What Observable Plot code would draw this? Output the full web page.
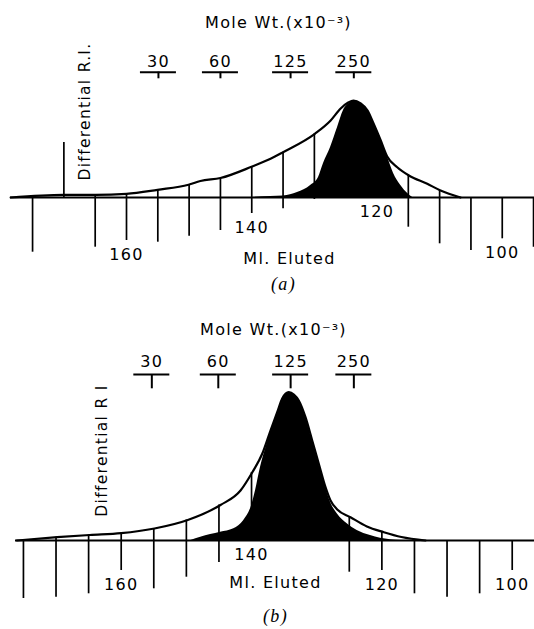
<!DOCTYPE html>
<html><head><meta charset="utf-8">
<script src="https://cdn.jsdelivr.net/npm/d3@7"></script>
<script src="https://cdn.jsdelivr.net/npm/@observablehq/plot@0.6"></script>
<style>
body{margin:0;background:#fff}
#chart svg{display:block}
</style>
</head><body><div id="chart"></div>
<script>
// ---------- DATA ----------
// Elution volume axis (Ml. Eluted), tick every 5 ml
const elutionLabels = [160, 140, 120, 100];

// Panel (a)
const ticksA      = [175, 165, 160, 155, 150, 145, 140, 135, 130, 115, 110, 105, 100, 95];
const tickDepthA  = [54.7, 49.7, 43, 44.7, 38.7, 33, 16, 11.3, 2, 29.7, 46.3, 53, 41.3, 49.7];
const hatchTopA   = [0, 2.7, 3.7, 7.7, 12.7, 18.7, 31, 45.3, 63.7, 22, 7, 0, 0, 0];
const injectionA  = [{ml: 170, h: 55}];
const outerA = [[178.5,0],[170.06,2.7],[164.95,2.7],[160,3.7],[155.05,7.7],[150.1,12.7],[148.2,16.5],
  [145,19.5],[139.93,31],[137,38.7],[135,45.3],[129.93,63.7],[127.4,77],[125.8,89],[124.6,95],
  [123.75,97],[122.6,94],[121.5,87],[120.55,74],[119.4,57],[118.37,41],[116.77,30.3],
  [114.9,22],[111.98,13.7],[109.85,7],[106.66,0]];
const peakA = [[140.5,0],[137,1],[134.93,1.5],[132.7,5],[130.6,12],[129.34,20],[128.54,34],[127.42,50],
  [126.3,70],[125.35,87],[124.23,95],[123.75,97],[122.6,94],[121.5,87],[120.55,74],[119.4,57],
  [118.3,40],[117.35,24],[116.2,12],[115.1,4],[114.3,0]];
const mwLabels = ["30", "60", "125", "250"];
const mwMlA    = [154.9, 145.0, 133.8, 123.7];

// Panel (b)
const ticksB      = [175, 170, 165, 160, 155, 150, 145, 140, 125, 120, 115, 110, 105, 100];
const tickDepthB  = [58, 56.7, 53.3, 30, 48.3, 36.7, 22, 0, 31.7, 30, 53.3, 56.7, 53.3, 30];
const hatchTopB   = [0, 3.3, 5.5, 7.3, 12, 20.5, 35.5, 68, 23.3, 8.3, 0, 0, 0, 0];
const outerB = [[176,0],[169.82,3.3],[164.82,5.5],[160,7.3],[154.89,12],[149.78,20.5],[144.76,35.5],
  [141.69,50],[139.9,68],[138.36,86.7],[137.09,110],[136.06,128.3],[135.29,142],[134.28,148.3],
  [133.5,146],[132.75,140],[131.72,123.3],[130.69,100],[129.68,76.7],[128.65,53.3],[127.88,40],
  [126.85,31],[124.82,23.3],[122.3,14],[119.7,8.3],[117,3.5],[113.3,0]];
const peakB = [[149.3,0],[147.8,3.3],[144.76,8.3],[142.72,11.7],[141.19,20],[139.9,36.7],[139.38,50],
  [138.62,73.3],[137.6,96.7],[136.83,113.3],[136.06,126.7],[135.29,141.7],[134.28,148.3],[133.5,146],
  [132.75,140],[131.72,123.3],[130.69,100],[129.68,76.7],[128.65,53.3],[127.88,38.3],[126.85,26.7],
  [125.32,16.7],[123.79,10],[121.75,5],[118.68,0.7],[117,0]];
const mwMlB    = [155.3, 145.1, 134.0, 124.3];

// ---------- BUILD ----------
const FONT = "DejaVu Sans";
function panel(o) {
  const ticks = o.ticks.map((ml, i) => ({ml, depth: o.depth[i], top: o.top[i]}));
  const depthOf = ml => { const t = ticks.find(d => d.ml === ml); return t ? t.depth : 0; };
  const outer = o.outer.map(([ml, h]) => ({ml, h}));
  const peak = o.peak.map(([ml, h]) => ({ml, h}));
  const mw = mwLabels.map((label, i) => ({label, ml: o.mw[i]}));
  const labels = elutionLabels.map(ml => ({ml, text: String(ml)}));
  const txt = {fontFamily: FONT, lineAnchor: "middle", textAnchor: "middle"};
  const marks = [
    Plot.ruleY([0], {insetLeft: o.baseInset, strokeWidth: 2}),
    Plot.ruleX(ticks, {x: "ml", y1: d => -d.depth, y2: "top", strokeWidth: 1.7}),
    Plot.areaY(peak, {x: "ml", y: "h", fill: "black", curve: "monotone-x"}),
    Plot.line(outer, {x: "ml", y: "h", stroke: "black", strokeWidth: 2.2, curve: "monotone-x"}),
    Plot.text(labels, {x: "ml", y: d => -depthOf(d.ml), dy: 14, text: "text", fontSize: 16, ...txt}),
    Plot.ruleY(mw, {x1: "ml", x2: "ml", y: o.mwBar, insetLeft: -18, insetRight: -18, strokeWidth: 2}),
    Plot.ruleX(mw, {x: "ml", y1: o.mwBar, y2: o.mwTick, strokeWidth: 2}),
    Plot.text(mw, {x: "ml", y: o.mwText, text: "label", fontSize: 16, ...txt}),
    Plot.text(["Mole Wt.(x10\u207B\u00B3)"], {frameAnchor: "top", dx: o.title[0], dy: o.title[1],
      fontSize: 16, ...txt}),
    Plot.text(["Ml. Eluted"], {frameAnchor: "bottom", dx: o.xlab[0], dy: o.xlab[1], fontSize: 16, ...txt}),
    Plot.text([o.ylabel], {frameAnchor: "left", dx: o.ylab[0], dy: o.ylab[1], rotate: -90,
      fontSize: 15.5, ...txt}),
    Plot.text([o.tag], {frameAnchor: "bottom", dx: o.tagPos[0], dy: o.tagPos[1], lineAnchor: "middle",
      textAnchor: "middle", fontFamily: "Liberation Serif", fontStyle: "italic", fontSize: 18})
  ];
  if (o.injection) marks.push(Plot.ruleX(o.injection, {x: "ml", y1: 0, y2: "h", strokeWidth: 1.7}));
  return Plot.plot({
    width: 534, height: o.height, margin: 0,
    x: {domain: o.xDomain, axis: null},
    y: {domain: o.yDomain, axis: null},
    style: {background: "white", color: "black", letterSpacing: "1.3px", overflow: "visible"},
    marks
  });
}

const chart = document.getElementById("chart");
chart.append(panel({
  height: 300, xDomain: [180.12, 94.85], yDomain: [-103, 197], baseInset: 10,
  ticks: ticksA, depth: tickDepthA, top: hatchTopA, outer: outerA, peak: peakA,
  injection: injectionA, mw: mwMlA, mwBar: 125.3, mwTick: 118.7, mwText: 135.5,
  title: [11, 22], xlab: [22, -42], ylabel: "Differential R.I.", ylab: [85, -39],
  tag: "(a)", tagPos: [16, -16]
}));
chart.append(panel({
  height: 329, xDomain: [178.52, 96.58], yDomain: [-89, 240], baseInset: 15,
  ticks: ticksB, depth: tickDepthB, top: hatchTopB, outer: outerB, peak: peakB,
  injection: null, mw: mwMlB, mwBar: 166, mwTick: 151.7, mwText: 178.3,
  title: [6, 29], xlab: [8, -47], ylabel: "Differential R I", ylab: [101.7, -14.5],
  tag: "(b)", tagPos: [8, -13]
}));
</script></body></html>
